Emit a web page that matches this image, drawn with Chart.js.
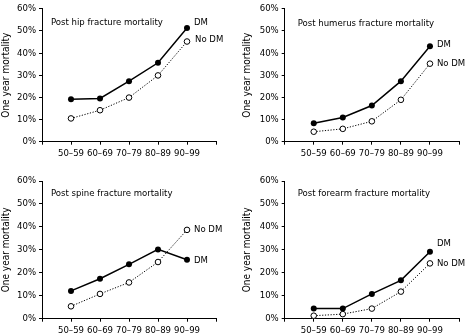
<!DOCTYPE html>
<html>
<head>
<meta charset="utf-8">
<script src="https://cdn.jsdelivr.net/npm/chart.js@4/dist/chart.umd.min.js"></script>
<style>
  html, body { margin: 0; padding: 0; background: #fff; }
  #wrap { position: relative; width: 466px; height: 334px; overflow: hidden; }
  .panel { position: absolute; width: 233px; height: 167px; }
</style>
</head>
<body>
<div id="wrap">
  <div class="panel" style="left:0;top:0"><canvas id="c1" width="233" height="167"></canvas></div>
  <div class="panel" style="left:233px;top:0"><canvas id="c2" width="233" height="167"></canvas></div>
  <div class="panel" style="left:0;top:167px"><canvas id="c3" width="233" height="167"></canvas></div>
  <div class="panel" style="left:233px;top:167px"><canvas id="c4" width="233" height="167"></canvas></div>
</div>
<script>
// ---- Data ----
const ageGroups = ['50–59', '60–69', '70–79', '80–89', '90–99'];
const seriesNames = ['DM', 'No DM'];
const panelTitles = [
  'Post hip fracture mortality',
  'Post humerus fracture mortality',
  'Post spine fracture mortality',
  'Post forearm fracture mortality'
];
const yAxisTitle = 'One year mortality';
const yTickValues = [0, 10, 20, 30, 40, 50, 60];

const hipDM = [19.2, 19.5, 27.3, 35.6, 51.3];
const hipNoDM = [10.5, 14.2, 19.9, 29.9, 45.2];
const humerusDM = [8.3, 10.9, 16.3, 27.3, 43.1];
const humerusNoDM = [4.5, 5.8, 9.2, 18.9, 35.2];
const spineDM = [12.1, 17.4, 23.7, 30.2, 25.7];
const spineNoDM = [5.4, 10.8, 15.8, 24.7, 38.7];
const forearmDM = [4.4, 4.4, 10.8, 16.7, 29.2];
const forearmNoDM = [1.3, 2.0, 4.4, 11.8, 24.1];

// ---- Styling / layout ----
const FONT = "'DejaVu Sans Condensed', 'Liberation Sans Narrow', 'Liberation Sans', sans-serif";

const panels = [
  { id: 'c1', title: panelTitles[0], dm: hipDM, nodm: hipNoDM,
    area: { left: 42, right: 216, top: 4, bottom: 141.7 },
    titleOff: [9, 14], dmOff: [7, -5], nodmOff: [8, -2] },
  { id: 'c2', title: panelTitles[1], dm: humerusDM, nodm: humerusNoDM,
    area: { left: 51.7, right: 226, top: 4, bottom: 141.7 },
    titleOff: [13, 15], dmOff: [7, -2], nodmOff: [7, 0] },
  { id: 'c3', title: panelTitles[2], dm: spineDM, nodm: spineNoDM,
    area: { left: 42, right: 216, top: 14, bottom: 151.7 },
    titleOff: [9, 13], dmOff: [7, 1], nodmOff: [7, 0] },
  { id: 'c4', title: panelTitles[3], dm: forearmDM, nodm: forearmNoDM,
    area: { left: 51.7, right: 226, top: 14, bottom: 151.7 },
    titleOff: [13, 13], dmOff: [7, -8], nodmOff: [7, 0] }
];

const annotatePlugin = {
  id: 'annotate',
  afterDatasetsDraw(chart, args, opts) {
    const ctx = chart.ctx;
    const ca = chart.chartArea;
    ctx.save();
    ctx.fillStyle = '#000';
    ctx.textAlign = 'left';
    ctx.textBaseline = 'middle';
    ctx.font = "9.5px " + FONT;
    ctx.fillText(opts.title, ca.left + opts.titleOff[0], ca.top + opts.titleOff[1]);
    chart.data.datasets.forEach((ds, i) => {
      const meta = chart.getDatasetMeta(i);
      const pt = meta.data[meta.data.length - 1];
      const off = ds.labelOff;
      ctx.fillText(ds.label, pt.x + off[0], pt.y + off[1]);
    });
    ctx.restore();
  }
};

function toPoints(arr) {
  return arr.map((v, i) => ({ x: i, y: v }));
}

panels.forEach(p => {
  const W = 233, H = 167;
  new Chart(document.getElementById(p.id), {
    type: 'line',
    data: {
      datasets: [
        {
          label: seriesNames[0],
          data: toPoints(p.dm),
          borderColor: '#000',
          borderWidth: 1.5,
          backgroundColor: '#000',
          pointRadius: 3,
          pointBorderWidth: 0,
          pointBackgroundColor: '#000',
          tension: 0,
          labelOff: p.dmOff
        },
        {
          label: seriesNames[1],
          data: toPoints(p.nodm),
          borderColor: '#000',
          borderWidth: 1,
          borderDash: [1.2, 1.6],
          pointRadius: 2.8,
          pointBorderWidth: 1,
          pointBorderColor: '#000',
          pointBackgroundColor: '#fff',
          tension: 0,
          labelOff: p.nodmOff
        }
      ]
    },
    options: {
      responsive: false,
      animation: false,
      devicePixelRatio: 1,
      layout: { padding: { left: 0, top: p.area.top, right: W - p.area.right, bottom: 0 } },
      plugins: {
        legend: { display: false },
        tooltip: { enabled: false },
        annotate: { title: p.title, titleOff: p.titleOff }
      },
      scales: {
        x: {
          type: 'linear',
          min: -1,
          max: 5,
          afterBuildTicks(scale) {
            scale.ticks = [-1, 0, 1, 2, 3, 4, 5].map(v => ({ value: v }));
          },
          afterFit(scale) { scale.height = H - p.area.bottom; },
          border: { display: true, color: '#000', width: 1 },
          grid: { drawOnChartArea: false, drawTicks: true, tickLength: 3, color: '#000', tickColor: '#000' },
          ticks: {
            autoSkip: false,
            maxRotation: 0,
            padding: 3,
            color: '#000',
            font: { family: FONT, size: 9.5 },
            callback: v => (ageGroups[v] !== undefined ? ageGroups[v] : '')
          }
        },
        y: {
          type: 'linear',
          min: 0,
          max: 60,
          afterBuildTicks(scale) {
            scale.ticks = yTickValues.map(v => ({ value: v }));
          },
          afterFit(scale) { scale.width = p.area.left; },
          border: { display: true, color: '#000', width: 1 },
          grid: { drawOnChartArea: false, drawTicks: true, tickLength: 3, color: '#000', tickColor: '#000' },
          title: {
            display: true,
            text: yAxisTitle,
            color: '#000',
            font: { family: FONT, size: 10 },
            padding: { top: p.area.left > 45 ? 8 : 0, bottom: 0 }
          },
          ticks: {
            padding: 3,
            color: '#000',
            font: { family: FONT, size: 9.5 },
            callback: v => v + '%'
          }
        }
      }
    },
    plugins: [annotatePlugin]
  });
});
</script>
</body>
</html>
